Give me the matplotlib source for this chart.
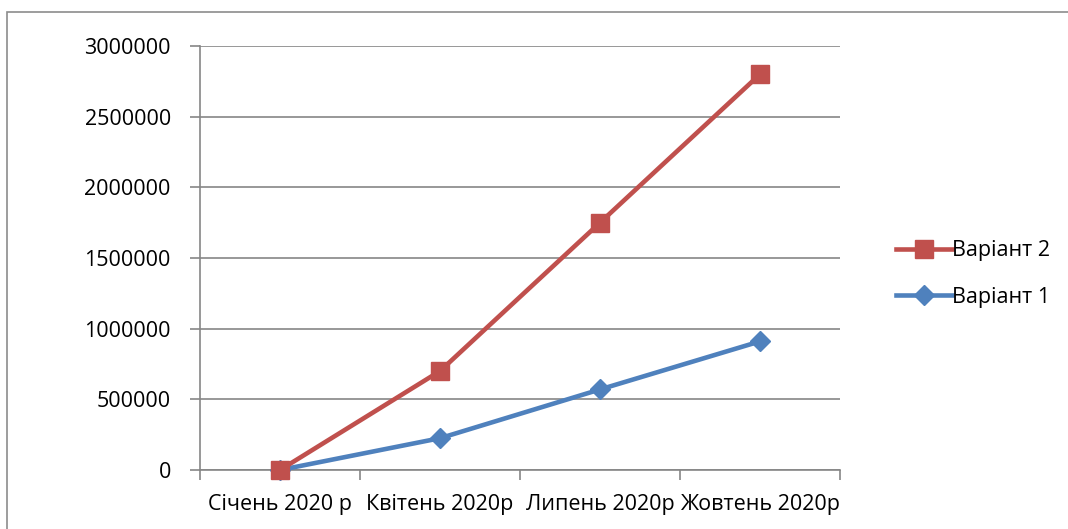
import matplotlib
matplotlib.use('Agg')
import matplotlib.pyplot as plt
from matplotlib.patches import Rectangle

plt.rcParams['font.family'] = ['Open Sans', 'DejaVu Sans']

categories = ['Січень 2020 р', 'Квітень 2020р', 'Липень 2020р', 'Жовтень 2020р']
variant2 = [0, 700000, 1750000, 2800000]
variant1 = [0, 225000, 570000, 910000]
y_ticks = [0, 500000, 1000000, 1500000, 2000000, 2500000, 3000000]

red = '#C0504D'
blue = '#4F81BD'
grey = '#868686'

fig = plt.figure(figsize=(10.68, 5.29), dpi=100)
W, H = 1068, 529
ax = fig.add_axes([200 / W, 1 - 470 / H, 640 / W, 424 / H])

# outer chart border (only top and left visible in the crop)
fig.patches.append(Rectangle((7 / W, -0.1), 1.2, (1 - 12 / H) + 0.1,
                             transform=fig.transFigure, fill=False,
                             edgecolor='#8c8c8c', linewidth=1.2))

x = [i + 0.5 for i in range(len(categories))]
ax.plot(x, variant2, color=red, linewidth=3.3, marker='s', markersize=13,
        label='Варіант 2', clip_on=False, zorder=4)
ax.plot(x, variant1, color=blue, linewidth=3.3, marker='D', markersize=10,
        label='Варіант 1', clip_on=False, zorder=3)

ax.set_xlim(0, len(categories))
ax.set_ylim(0, 3000000)
ax.set_yticks(y_ticks)
ax.set_yticklabels([str(v) for v in y_ticks])
ax.set_xticks(range(len(categories) + 1))
ax.set_xticklabels([])
ax.set_xticks(x, minor=True)
ax.set_xticklabels(categories, minor=True)
ax.tick_params(axis='x', which='minor', length=0, pad=17)
ax.tick_params(axis='x', which='major', length=7, color=grey, width=1.2)
ax.tick_params(axis='y', length=7, color=grey, width=1.2, pad=14)
ax.tick_params(which='both', labelsize=15.5, labelcolor='black')

ax.grid(True, axis='y', color=grey, linewidth=1.2)
ax.set_axisbelow(True)
for s in ['top', 'right']:
    ax.spines[s].set_visible(False)
for s in ['left', 'bottom']:
    ax.spines[s].set_color(grey)
    ax.spines[s].set_linewidth(1.2)

ax.legend(loc='center left', bbox_to_anchor=(877 / W, 1 - 274 / H),
          bbox_transform=fig.transFigure, frameon=False, fontsize=15.5,
          handlelength=2.6, handletextpad=0.0, labelspacing=1.2)

fig.savefig('out.png', dpi=100)
